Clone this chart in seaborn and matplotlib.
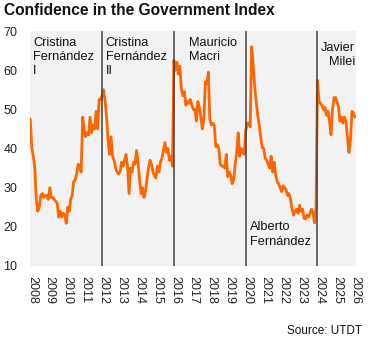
import matplotlib
matplotlib.use("Agg")
import matplotlib.pyplot as plt
import matplotlib.dates as mdates
import seaborn as sns
import pandas as pd
import numpy as np

# Monthly index values by presidential term (first month = December of inauguration year)
cfk1 = [47.5, 40, 38, 35, 27, 24, 25, 28, 28.5, 27.5, 28, 28, 27, 30, 27.5, 27.5,
        27, 26.5, 26, 22.5, 24, 22.5, 23.5, 23, 20.9, 25, 24, 27, 28, 31.5, 32, 33.5,
        36, 35.5, 34, 48, 45, 43, 44, 43.5, 48, 44, 46, 45, 49.5, 45, 52.5, 52.5]
cfk2 = [53.5, 55, 52, 48, 42, 38.5, 43, 38, 37, 35, 34, 33.5, 34, 36.5, 35.5, 37,
        38.5, 35.5, 28.5, 35, 34, 36.5, 36, 39.5, 36.5, 32, 28.5, 30, 27.5, 29, 32, 35,
        37, 36, 34, 33, 32.5, 35.5, 34, 36.5, 37.5, 39.5, 41.5, 39, 40, 37, 38, 35.5]
macri = [62.5, 60, 62, 59, 61, 55, 53.5, 54.5, 51, 52, 51.5, 52.5, 51, 50, 50, 47,
         52, 50.5, 48, 45, 47.5, 57, 56.5, 59.5, 47.5, 46, 46.5, 46, 40.5, 41, 40, 36,
         35.5, 35.5, 35, 38.5, 32.8, 34, 33, 31, 32, 36, 39, 44, 38, 40, 39, 38.5]
alberto = [44.5, 46.5, 46.5, 45.5, 66, 61.5, 56, 52, 48.5, 46, 43, 40.3, 40, 37.5, 37, 36,
           35, 38, 34, 36.5, 33.5, 31.5, 31, 30, 29, 30.5, 30, 29.5, 28, 28.5, 27, 24.5,
           23, 24, 24.5, 23.5, 25.5, 24, 24.5, 22.2, 22, 23, 22.5, 23.5, 24.5, 23.5, 21, 25]
milei = [57.4, 52, 51.5, 51, 50, 50.5, 48.5, 49.5, 47, 43.5, 50, 53, 53, 52, 50.5, 47,
         48, 46.5, 48, 47, 43, 39, 42, 49.5, 49, 48]

term_starts = ["2011-12-01", "2015-12-01", "2019-12-01", "2023-12-01"]
term_labels = ["Cristina\nFernández\nI", "Cristina\nFernández\nII", "Mauricio\nMacri",
               "Alberto\nFernández", "Javier\nMilei"]
years = list(range(2008, 2027))

values = cfk1 + cfk2 + macri + alberto + milei
dates = pd.date_range("2007-12-01", periods=len(values), freq="MS")
df = pd.DataFrame({"date": dates, "index": values})

sns.set_style("white", {"axes.facecolor": "#F2F2F2"})
plt.rcParams["font.family"] = ["Liberation Sans", "DejaVu Sans"]

fig = plt.figure(figsize=(3.75, 3.43), dpi=100)
ax = fig.add_axes([0.08, 0.2245, 0.869, 0.6851])
ax.set_facecolor("#F2F2F2")

sns.lineplot(data=df, x="date", y="index", ax=ax, color="#FF6600", linewidth=2.0)

for d in term_starts:
    ax.axvline(pd.Timestamp(d), color="#404040", linewidth=1.1, zorder=3)

ax.set_ylim(10, 70)
ax.set_yticks(range(10, 71, 10))
ax.set_xlim(pd.Timestamp("2007-11-25"), pd.Timestamp("2026-01-20"))
ax.set_xticks([pd.Timestamp(f"{y}-01-01") for y in years])
ax.set_xticklabels([str(y) for y in years], rotation=270, ha="center", va="top")
ax.tick_params(axis="both", length=0, labelsize=9, colors="#222222")
ax.tick_params(axis="y", pad=9)
ax.tick_params(axis="x", pad=7)
ax.set_xlabel("")
ax.set_ylabel("")
for s in ax.spines.values():
    s.set_visible(False)

tkw = dict(transform=ax.transAxes, fontsize=9.2, color="#111111", linespacing=1.25)
ax.text(0.009, 0.975, term_labels[0], ha="left", va="top", **tkw)
ax.text(0.232, 0.975, term_labels[1], ha="left", va="top", **tkw)
ax.text(0.487, 0.975, term_labels[2], ha="left", va="top", **tkw)
ax.text(0.675, 0.19, term_labels[3], ha="left", va="top", **tkw)
ax.text(0.998, 0.955, term_labels[4], ha="right", va="top", multialignment="right", **tkw)

fig.text(0.011, 0.97, "Confidence in the Government Index", fontsize=11.2,
         fontweight="bold", ha="left", va="center", color="#111111")
fig.text(0.966, 0.035, "Source: UTDT", fontsize=8.5, ha="right", va="center", color="#111111")

fig.savefig("out.png", dpi=100, facecolor="white")
